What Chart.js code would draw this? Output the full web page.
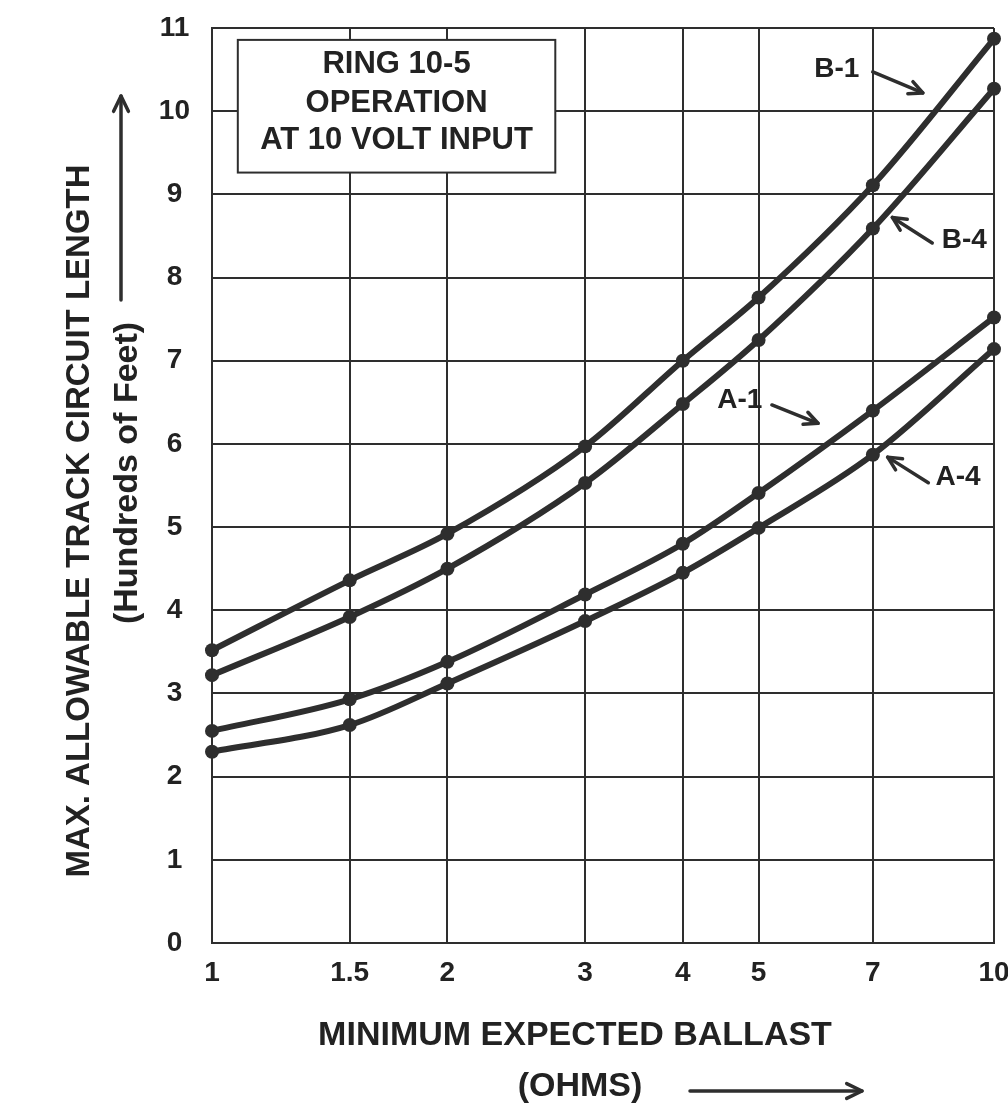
<!DOCTYPE html>
<html><head><meta charset="utf-8">
<script src="https://cdn.jsdelivr.net/npm/chart.js@4.4.1/dist/chart.umd.min.js"></script>
<style>html,body{margin:0;padding:0;background:#fff}#wrap{width:1008px;height:1115px;position:relative}</style>
</head><body><div id="wrap"><canvas id="c"></canvas></div>
<script>
// ---- data ----
const ballast = [1, 1.5, 2, 3, 4, 5, 7, 10];
const xTickLabels = ['1', '1.5', '2', '3', '4', '5', '7', '10'];
const seriesNames = ['B-1', 'B-4', 'A-1', 'A-4'];
const b1 = [3.52, 4.36, 4.92, 5.97, 7.0, 7.76, 9.11, 10.87];
const b4 = [3.22, 3.92, 4.5, 5.53, 6.48, 7.25, 8.59, 10.27];
const a1 = [2.55, 2.93, 3.38, 4.19, 4.8, 5.41, 6.4, 7.52];
const a4 = [2.3, 2.62, 3.12, 3.87, 4.45, 4.99, 5.87, 7.14];
const yMin = 0, yMax = 11;
const boxLines = ['RING 10-5', 'OPERATION', 'AT 10 VOLT INPUT'];
const yTitle = 'MAX. ALLOWABLE TRACK CIRCUIT LENGTH';
const ySub = '(Hundreds of Feet)';
const xTitle = 'MINIMUM EXPECTED BALLAST';
const xSub = '(OHMS)';

const INK = '#2e2e2e';
const FONT = '"Liberation Sans", Arial, Helvetica, sans-serif';
const allSeries = [b1, b4, a1, a4];

// label placements as fractions of the plot area
const curveLabels = [
  {text: 'B-1', fx: 0.799, fy: 0.045, a: [0.845, 0.048, 0.909, 0.071]},
  {text: 'B-4', fx: 0.962, fy: 0.232, a: [0.921, 0.235, 0.870, 0.207]},
  {text: 'A-1', fx: 0.675, fy: 0.407, a: [0.716, 0.412, 0.775, 0.432]},
  {text: 'A-4', fx: 0.954, fy: 0.491, a: [0.916, 0.497, 0.864, 0.469]}
];

function arrow(ctx, x1, y1, x2, y2, head, lw) {
  const ang = Math.atan2(y2 - y1, x2 - x1);
  ctx.save();
  ctx.strokeStyle = INK; ctx.lineWidth = lw; ctx.lineCap = 'round'; ctx.lineJoin = 'round';
  ctx.beginPath(); ctx.moveTo(x1, y1); ctx.lineTo(x2, y2); ctx.stroke();
  ctx.beginPath();
  ctx.moveTo(x2 - head * Math.cos(ang - 0.45), y2 - head * Math.sin(ang - 0.45));
  ctx.lineTo(x2, y2);
  ctx.lineTo(x2 - head * Math.cos(ang + 0.45), y2 - head * Math.sin(ang + 0.45));
  ctx.stroke();
  ctx.restore();
}

const decor = {
  id: 'decor',
  afterDraw(chart) {
    const ctx = chart.ctx, ca = chart.chartArea;
    const W = ca.right - ca.left, H = ca.bottom - ca.top;
    const px = f => ca.left + f * W, py = f => ca.top + f * H;
    ctx.save();
    // info box
    const bx1 = px(0.033), bx2 = px(0.439), by1 = py(0.013), by2 = py(0.158);
    ctx.fillStyle = '#fff'; ctx.fillRect(bx1, by1, bx2 - bx1, by2 - by1);
    ctx.strokeStyle = INK; ctx.lineWidth = 2; ctx.strokeRect(bx1, by1, bx2 - bx1, by2 - by1);
    ctx.fillStyle = '#222'; ctx.textAlign = 'center'; ctx.textBaseline = 'middle';
    ctx.font = 'bold 31px ' + FONT;
    const bfy = [0.040, 0.083, 0.123];
    boxLines.forEach((t, i) => ctx.fillText(t, (bx1 + bx2) / 2, py(bfy[i])));
    // curve labels
    ctx.font = 'bold 28px ' + FONT;
    curveLabels.forEach(l => {
      ctx.fillText(l.text, px(l.fx), py(l.fy));
      arrow(ctx, px(l.a[0]), py(l.a[1]), px(l.a[2]), py(l.a[3]), 15, 3.5);
    });
    // y titles
    ctx.save();
    ctx.translate(80, 521); ctx.rotate(-Math.PI / 2);
    ctx.font = 'bold 33px ' + FONT; ctx.fillText(yTitle, 0, 0);
    ctx.restore();
    ctx.save();
    ctx.translate(128, 473); ctx.rotate(-Math.PI / 2);
    ctx.font = 'bold 34px ' + FONT; ctx.fillText(ySub, 0, 0);
    ctx.restore();
    arrow(ctx, 121, 300, 121, 96, 17, 3.5);
    // x titles
    ctx.font = 'bold 34px ' + FONT;
    ctx.fillText(xTitle, 575, 1036);
    ctx.fillText(xSub, 580, 1087);
    arrow(ctx, 690, 1091, 862, 1091, 17, 3.5);
    ctx.restore();
  }
};

const datasets = allSeries.map((arr, i) => ({
  label: seriesNames[i],
  data: ballast.map((x, j) => ({x: x, y: arr[j]})),
  borderColor: INK, backgroundColor: INK,
  borderWidth: 6, pointRadius: 7, pointBackgroundColor: INK, pointBorderWidth: 0,
  cubicInterpolationMode: 'monotone', fill: false, clip: false
}));

new Chart(document.getElementById('c'), {
  type: 'line',
  data: {datasets},
  options: {
    responsive: true, maintainAspectRatio: false, animation: false,
    layout: {padding: {top: 28, right: 14, bottom: 0, left: 0}},
    plugins: {legend: {display: false}, tooltip: {enabled: false}},
    scales: {
      x: {
        type: 'logarithmic', min: 1, max: 10,
        afterBuildTicks: s => { s.ticks = ballast.map(v => ({value: v})); },
        afterFit: s => { s.height = 1115 - 943; s.paddingLeft = 0; s.paddingRight = 0; },
        ticks: {
          autoSkip: false, maxRotation: 0, padding: 13, color: '#222',
          font: {family: FONT, size: 28, weight: 'bold'},
          callback: v => { const k = ballast.indexOf(v); return k >= 0 ? xTickLabels[k] : ''; }
        },
        grid: {color: INK, lineWidth: 2, drawTicks: false},
        border: {color: INK, width: 2}
      },
      y: {
        min: yMin, max: yMax,
        afterFit: s => { s.width = 212; s.paddingTop = 0; s.paddingBottom = 0; },
        ticks: {
          stepSize: 1, padding: 22, color: '#222', crossAlign: 'center',
          font: {family: FONT, size: 28, weight: 'bold'}
        },
        grid: {color: INK, lineWidth: 2, drawTicks: false},
        border: {color: INK, width: 2}
      }
    }
  },
  plugins: [decor]
});
</script>
</body></html>
